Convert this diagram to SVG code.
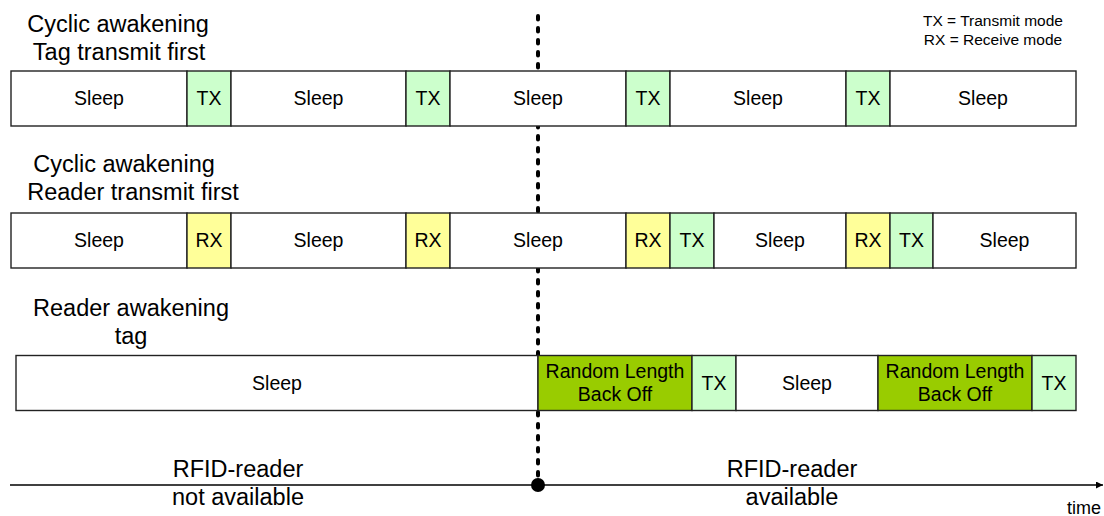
<svg xmlns="http://www.w3.org/2000/svg" width="1104" height="516" viewBox="0 0 1104 516">
  <style>
    text { font-family: "Liberation Sans", Arial, sans-serif; fill: #000; }
    .title { font-size: 23.5px; text-anchor: middle; }
    .cell { font-size: 19.5px; text-anchor: middle; }
    .legend { font-size: 15.5px; text-anchor: middle; }
    .axislbl { font-size: 23.5px; text-anchor: middle; }
    .time { font-size: 18px; text-anchor: middle; }
    rect.box { stroke: #222; stroke-width: 1.4; }
    .sleep { fill: #ffffff; }
    .tx { fill: #ccffcc; }
    .rx { fill: #ffff99; }
    .bo { fill: #99cc00; }
    .marker-line { stroke: #000; stroke-width: 4; stroke-linecap: round; stroke-dasharray: 3.5 8.5; fill: none; }
    .axis { stroke: #000; stroke-width: 1.5; fill: none; }
  </style>
  <defs>
    <marker id="arrow" viewBox="0 0 10 10" refX="10" refY="5" markerWidth="7" markerHeight="7" markerUnits="userSpaceOnUse" orient="auto">
      <path d="M0,0 L10,5 L0,10 z" fill="#000"/>
    </marker>
  </defs>

  <rect width="1104" height="516" fill="#ffffff"/>

  <!-- connectors: time axis and reader-available marker -->
  <g id="connectors">
    <line class="marker-line" x1="538" y1="16" x2="538" y2="478"/>
    <line class="axis" x1="10" y1="485" x2="1103" y2="485" marker-end="url(#arrow)"/>
    <circle cx="538" cy="485" r="7" fill="#000"/>
  </g>

  <!-- legend -->
  <g id="legend">
    <text class="legend" x="993" y="26">TX = Transmit mode</text>
    <text class="legend" x="993" y="45">RX = Receive mode</text>
  </g>

  <!-- row 1: cyclic awakening, tag transmits first -->
  <g id="row1-title">
    <text class="title" x="118" y="32">Cyclic awakening</text>
    <text class="title" x="119" y="60">Tag transmit first</text>
  </g>
  <g id="row1">
    <g id="r1-sleep1"><rect class="box sleep" x="11" y="71" width="176" height="55"/><text class="cell" x="99" y="105">Sleep</text></g>
    <g id="r1-tx1"><rect class="box tx" x="187" y="71" width="44" height="55"/><text class="cell" x="209" y="105">TX</text></g>
    <g id="r1-sleep2"><rect class="box sleep" x="231" y="71" width="175" height="55"/><text class="cell" x="318.5" y="105">Sleep</text></g>
    <g id="r1-tx2"><rect class="box tx" x="406" y="71" width="44" height="55"/><text class="cell" x="428" y="105">TX</text></g>
    <g id="r1-sleep3"><rect class="box sleep" x="450" y="71" width="176" height="55"/><text class="cell" x="538" y="105">Sleep</text></g>
    <g id="r1-tx3"><rect class="box tx" x="626" y="71" width="44" height="55"/><text class="cell" x="648" y="105">TX</text></g>
    <g id="r1-sleep4"><rect class="box sleep" x="670" y="71" width="176" height="55"/><text class="cell" x="758" y="105">Sleep</text></g>
    <g id="r1-tx4"><rect class="box tx" x="846" y="71" width="44" height="55"/><text class="cell" x="868" y="105">TX</text></g>
    <g id="r1-sleep5"><rect class="box sleep" x="890" y="71" width="186" height="55"/><text class="cell" x="983" y="105">Sleep</text></g>
  </g>

  <!-- row 2: cyclic awakening, reader transmits first -->
  <g id="row2-title">
    <text class="title" x="124" y="172">Cyclic awakening</text>
    <text class="title" x="133" y="200">Reader transmit first</text>
  </g>
  <g id="row2">
    <g id="r2-sleep1"><rect class="box sleep" x="11" y="213" width="176" height="55"/><text class="cell" x="99" y="247">Sleep</text></g>
    <g id="r2-rx1"><rect class="box rx" x="187" y="213" width="44" height="55"/><text class="cell" x="209" y="247">RX</text></g>
    <g id="r2-sleep2"><rect class="box sleep" x="231" y="213" width="175" height="55"/><text class="cell" x="318.5" y="247">Sleep</text></g>
    <g id="r2-rx2"><rect class="box rx" x="406" y="213" width="44" height="55"/><text class="cell" x="428" y="247">RX</text></g>
    <g id="r2-sleep3"><rect class="box sleep" x="450" y="213" width="176" height="55"/><text class="cell" x="538" y="247">Sleep</text></g>
    <g id="r2-rx3"><rect class="box rx" x="626" y="213" width="44" height="55"/><text class="cell" x="648" y="247">RX</text></g>
    <g id="r2-tx3"><rect class="box tx" x="670" y="213" width="44" height="55"/><text class="cell" x="692" y="247">TX</text></g>
    <g id="r2-sleep4"><rect class="box sleep" x="714" y="213" width="132" height="55"/><text class="cell" x="780" y="247">Sleep</text></g>
    <g id="r2-rx4"><rect class="box rx" x="846" y="213" width="44" height="55"/><text class="cell" x="868" y="247">RX</text></g>
    <g id="r2-tx4"><rect class="box tx" x="890" y="213" width="43" height="55"/><text class="cell" x="911.5" y="247">TX</text></g>
    <g id="r2-sleep5"><rect class="box sleep" x="933" y="213" width="143" height="55"/><text class="cell" x="1004.5" y="247">Sleep</text></g>
  </g>

  <!-- row 3: reader awakening tag -->
  <g id="row3-title">
    <text class="title" x="131" y="316">Reader awakening</text>
    <text class="title" x="131" y="344">tag</text>
  </g>
  <g id="row3">
    <g id="r3-sleep1"><rect class="box sleep" x="16" y="355.5" width="522" height="55"/><text class="cell" x="277" y="389.5">Sleep</text></g>
    <g id="r3-backoff1"><rect class="box bo" x="538" y="355.5" width="154" height="55"/><text class="cell" x="615" y="378">Random Length</text><text class="cell" x="615" y="401">Back Off</text></g>
    <g id="r3-tx1"><rect class="box tx" x="692" y="355.5" width="44" height="55"/><text class="cell" x="714" y="389.5">TX</text></g>
    <g id="r3-sleep2"><rect class="box sleep" x="736" y="355.5" width="142" height="55"/><text class="cell" x="807" y="389.5">Sleep</text></g>
    <g id="r3-backoff2"><rect class="box bo" x="878" y="355.5" width="154" height="55"/><text class="cell" x="955" y="378">Random Length</text><text class="cell" x="955" y="401">Back Off</text></g>
    <g id="r3-tx2"><rect class="box tx" x="1032" y="355.5" width="44" height="55"/><text class="cell" x="1054" y="389.5">TX</text></g>
  </g>

  <!-- axis labels -->
  <g id="axis-labels">
    <text class="axislbl" x="238" y="477">RFID-reader</text>
    <text class="axislbl" x="238" y="505">not available</text>
    <text class="axislbl" x="792" y="477">RFID-reader</text>
    <text class="axislbl" x="792" y="505">available</text>
    <text class="time" x="1084" y="514">time</text>
  </g>
</svg>
